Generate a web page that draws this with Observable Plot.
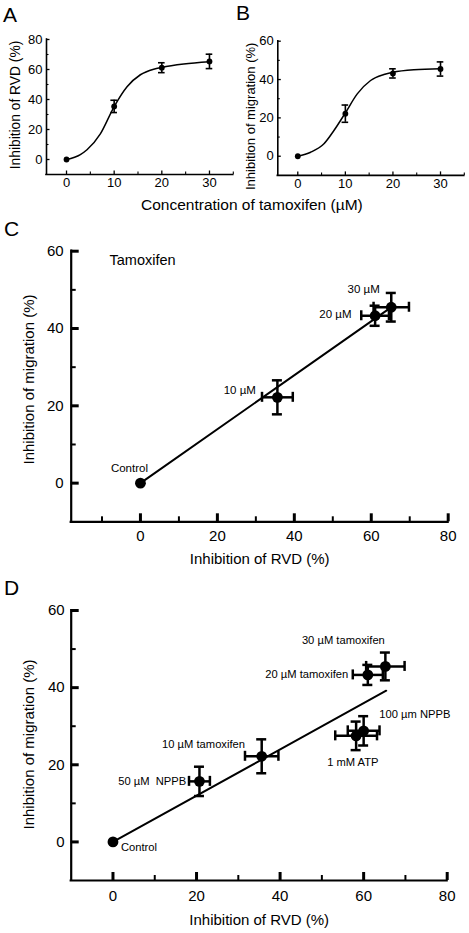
<!DOCTYPE html>
<html><head><meta charset="utf-8">
<script src="https://cdn.jsdelivr.net/npm/d3@7"></script>
<script src="https://cdn.jsdelivr.net/npm/@observablehq/plot@0.6"></script>
<style>
html,body{margin:0;padding:0;background:#fff;}
#fig{position:relative;width:469px;height:933px;overflow:hidden;font-family:"Liberation Sans",Arial,Helvetica,sans-serif;color:#000;}
#fig svg{position:absolute;}
.letter{position:absolute;font-size:21px;line-height:1;}
.xlab{position:absolute;font-size:15.5px;line-height:1;white-space:nowrap;}
</style></head><body>
<div id="fig">
<div class="letter" style="left:3px;top:4px">A</div>
<div class="letter" style="left:236px;top:2px">B</div>
<div class="letter" style="left:4px;top:218px">C</div>
<div class="letter" style="left:4px;top:577px">D</div>
<div class="xlab" style="left:141px;top:197px">Concentration of tamoxifen (µM)</div>
</div>
<script>
// ---------- data ----------
const conc = [0, 10, 20, 30];
const rvd = [0, 35.4, 61.2, 65.4];
const rvdErr = [0, 4.1, 3.3, 4.8];
const mig = [0, 22.2, 43.2, 45.5];
const migErr = [0, 4.5, 2.4, 3.7];
// fitted curves
const fitAx = [0, 2.9, 4.3, 7.1, 10, 12.7, 15.5, 18.3, 20, 24.6, 30];
const fitAy = [0, 3.3, 6.5, 17.1, 35.3, 48.5, 56.5, 60.2, 61.4, 63.6, 65.1];
const fitBx = [0, 2.7, 5.5, 7.6, 10, 12.5, 15.3, 18.1, 20, 24.4, 30];
const fitBy = [0, 2.1, 6.5, 13.4, 22.6, 32.5, 39.5, 42.6, 43.8, 45.1, 45.6];
// panel C
const cLabels = ["Control", "10 µM", "20 µM", "30 µM"];
const cRvd = [0, 35.6, 61.0, 65.2];
const cRvdErr = [0, 4.0, 3.6, 4.6];
const cMig = [0, 22.2, 43.3, 45.5];
const cMigErr = [0, 4.4, 2.6, 3.7];
const cFitX = [0, 64.5];
const cFitY = [0, 45];
// panel D
const dLabels = ["Control", "50 µM\u00a0\u00a0NPPB", "10 µM tamoxifen", "20 µM tamoxifen", "30 µM tamoxifen", "1 mM ATP", "100 µm NPPB"];
const dRvd = [0, 20.7, 35.6, 61.0, 65.2, 58.2, 60.0];
const dRvdErr = [0, 2.5, 4.0, 3.6, 4.6, 5.0, 3.8];
const dMig = [0, 15.7, 22.2, 43.3, 45.5, 27.5, 28.8];
const dMigErr = [0, 3.8, 4.4, 2.6, 3.6, 3.7, 3.8];
const dFitX = [0, 65.4];
const dFitY = [0, 39.2];
// axis titles
const titleRVD = "Inhibition of RVD (%)";
const titleMig = "Inhibition of migration (%)";

// ---------- helpers ----------
const FONT = '"Liberation Sans", Arial, Helvetica, sans-serif';
const fig = document.getElementById("fig");
function place(svg, left, top) {
  svg.style.left = left + "px"; svg.style.top = top + "px"; fig.appendChild(svg);
}
function rows(xs, ys, exs, eys) {
  return xs.map((x, i) => ({x, y: ys[i], ex: exs ? exs[i] : 0, ey: eys ? eys[i] : 0, i}));
}
function axesMarks(o) {
  const {xDomain, yDomain, fw, fh, xMaj, xMin, yMaj, yMin, majLen, minLen, majW, minW, axisW} = o;
  return [
    Plot.ruleY([yDomain[0]], {strokeWidth: axisW, strokeLinecap: "square"}),
    Plot.ruleX([xDomain[0]], {strokeWidth: axisW, strokeLinecap: "square"}),
    Plot.ruleX(xMaj, {x: d => d, insetTop: fh - majLen, strokeWidth: majW}),
    Plot.ruleX(xMin, {x: d => d, insetTop: fh - minLen, strokeWidth: minW}),
    Plot.ruleY(yMaj, {y: d => d, insetRight: fw - majLen, strokeWidth: majW}),
    Plot.ruleY(yMin, {y: d => d, insetRight: fw - minLen, strokeWidth: minW})
  ];
}
function errMarks(data, cap, sw) {
  const v = data.filter(d => d.ey > 0), h = data.filter(d => d.ex > 0);
  return [
    Plot.ruleX(v, {x: "x", y1: d => d.y - d.ey, y2: d => d.y + d.ey, strokeWidth: sw}),
    Plot.ruleY(v, {y: d => d.y - d.ey, x1: "x", x2: "x", insetLeft: -cap, insetRight: -cap, strokeWidth: sw}),
    Plot.ruleY(v, {y: d => d.y + d.ey, x1: "x", x2: "x", insetLeft: -cap, insetRight: -cap, strokeWidth: sw}),
    Plot.ruleY(h, {y: "y", x1: d => d.x - d.ex, x2: d => d.x + d.ex, strokeWidth: sw}),
    Plot.ruleX(h, {x: d => d.x - d.ex, y1: "y", y2: "y", insetTop: -cap, insetBottom: -cap, strokeWidth: sw}),
    Plot.ruleX(h, {x: d => d.x + d.ex, y1: "y", y2: "y", insetTop: -cap, insetBottom: -cap, strokeWidth: sw})
  ];
}
const baseStyle = (fs) => ({background: "none", overflow: "visible", fontFamily: FONT, fontSize: fs + "px", color: "black"});

// ---------- panel A ----------
{
  const W = 240, H = 215, ml = 46, mr = 7.2, mt = 39, mb = 41;
  const xD = [-4.2, 35], yD = [-10, 80];
  const pts = rows(conc, rvd, null, rvdErr);
  const fit = rows(fitAx, fitAy);
  const svg = Plot.plot({
    width: W, height: H, marginLeft: ml, marginRight: mr, marginTop: mt, marginBottom: mb,
    x: {domain: xD}, y: {domain: yD},
    style: baseStyle(13),
    marks: [
      ...axesMarks({xDomain: xD, yDomain: yD, fw: W - ml - mr, fh: H - mt - mb,
        xMaj: [0, 10, 20, 30], xMin: [5, 15, 25, 35], yMaj: [0, 20, 40, 60, 80], yMin: [10, 30, 50, 70],
        majLen: 3.5, minLen: 2.5, majW: 1.3, minW: 1.1, axisW: 1.6}),
      Plot.axisX({ticks: [0, 10, 20, 30], tickSize: 0, tickPadding: 3, label: null, tickFormat: d => String(d), fontSize: 13}),
      Plot.axisY({ticks: [0, 20, 40, 60, 80], tickSize: 0, tickPadding: 4, label: null, tickFormat: d => String(d), fontSize: 13}),
      Plot.text([titleRVD], {frameAnchor: "left", rotate: -90, dx: -30.5, dy: -2, textAnchor: "middle", lineAnchor: "middle", fontSize: 13.8}),
      Plot.line(fit, {x: "x", y: "y", curve: "monotone-x", strokeWidth: 1.5}),
      ...errMarks(pts, 3.3, 1.6),
      Plot.dot(pts, {x: "x", y: "y", r: 2.9, fill: "black"})
    ]
  });
  place(svg, 0, 0);
}
// ---------- panel B ----------
{
  const W = 239, H = 215, ml = 47.3, mr = 5.2, mt = 40.7, mb = 40.1;
  const xD = [-4.2, 35], yD = [-10, 60];
  const pts = rows(conc, mig, null, migErr);
  const fit = rows(fitBx, fitBy);
  const svg = Plot.plot({
    width: W, height: H, marginLeft: ml, marginRight: mr, marginTop: mt, marginBottom: mb,
    x: {domain: xD}, y: {domain: yD},
    style: baseStyle(13),
    marks: [
      ...axesMarks({xDomain: xD, yDomain: yD, fw: W - ml - mr, fh: H - mt - mb,
        xMaj: [0, 10, 20, 30], xMin: [5, 15, 25, 35], yMaj: [0, 20, 40, 60], yMin: [10, 30, 50],
        majLen: 3.5, minLen: 2.5, majW: 1.3, minW: 1.1, axisW: 1.6}),
      Plot.axisX({ticks: [0, 10, 20, 30], tickSize: 0, tickPadding: 3, label: null, tickFormat: d => String(d), fontSize: 13}),
      Plot.axisY({ticks: [0, 20, 40, 60], tickSize: 0, tickPadding: 4, label: null, tickFormat: d => String(d), fontSize: 13}),
      Plot.text([titleMig], {frameAnchor: "left", rotate: -90, dx: -27.3, dy: 8, textAnchor: "middle", lineAnchor: "middle", fontSize: 13}),
      Plot.line(fit, {x: "x", y: "y", curve: "monotone-x", strokeWidth: 1.5}),
      ...errMarks(pts, 3.3, 1.6),
      Plot.dot(pts, {x: "x", y: "y", r: 2.9, fill: "black"})
    ]
  });
  place(svg, 230, 0);
}
// ---------- panel C ----------
{
  const W = 469, H = 360, ml = 70.7, mr = 21.3, mt = 35.7, mb = 53.7;
  const xD = [-18, 80], yD = [-10, 60];
  const pts = rows(cRvd, cMig, cRvdErr, cMigErr);
  const fit = rows(cFitX, cFitY);
  const lab = (i, dx, dy, anchor) => Plot.text([pts[i]], {x: "x", y: "y", text: d => cLabels[d.i], dx, dy, textAnchor: anchor, lineAnchor: "middle", fontSize: 11.5});
  const svg = Plot.plot({
    width: W, height: H, marginLeft: ml, marginRight: mr, marginTop: mt, marginBottom: mb,
    x: {domain: xD}, y: {domain: yD},
    style: baseStyle(15),
    marks: [
      ...axesMarks({xDomain: xD, yDomain: yD, fw: W - ml - mr, fh: H - mt - mb,
        xMaj: [0, 20, 40, 60, 80], xMin: [-10, 10, 30, 50, 70], yMaj: [0, 20, 40, 60], yMin: [10, 30, 50],
        majLen: 8, minLen: 5, majW: 3, minW: 2, axisW: 2.2}),
      Plot.axisX({ticks: [0, 20, 40, 60, 80], tickSize: 0, tickPadding: 9, label: null, tickFormat: d => String(d), fontSize: 15}),
      Plot.axisY({ticks: [0, 20, 40, 60], tickSize: 0, tickPadding: 7.5, label: null, tickFormat: d => String(d), fontSize: 15}),
      Plot.text([titleMig], {frameAnchor: "left", rotate: -90, dx: -41.7, dy: -7, textAnchor: "middle", lineAnchor: "middle", fontSize: 15}),
      Plot.text([titleRVD], {frameAnchor: "bottom", dy: 37.5, textAnchor: "middle", lineAnchor: "middle", fontSize: 15}),
      Plot.text(["Tamoxifen"], {frameAnchor: "top-left", dx: 38.3, dy: 9.3, textAnchor: "start", lineAnchor: "middle", fontSize: 14.5}),
      Plot.line(fit, {x: "x", y: "y", strokeWidth: 2}),
      ...errMarks(pts, 5, 2.5),
      Plot.dot(pts, {x: "x", y: "y", r: 5.4, fill: "black"}),
      lab(0, -11, -14.6, "middle"),
      lab(1, -21.5, -7.3, "end"),
      lab(2, -23.6, -1.9, "end"),
      lab(3, -11.5, -18.4, "end")
    ]
  });
  place(svg, 0, 215);
}
// ---------- panel D ----------
{
  const W = 469, H = 358, ml = 70.7, mr = 22.3, mt = 35, mb = 53;
  const xD = [-10, 80], yD = [-10, 60];
  const pts = rows(dRvd, dMig, dRvdErr, dMigErr);
  const fit = rows(dFitX, dFitY);
  const lab = (i, dx, dy, anchor) => Plot.text([pts[i]], {x: "x", y: "y", text: d => dLabels[d.i], dx, dy, textAnchor: anchor, lineAnchor: "middle", fontSize: 11.2});
  const svg = Plot.plot({
    width: W, height: H, marginLeft: ml, marginRight: mr, marginTop: mt, marginBottom: mb,
    x: {domain: xD}, y: {domain: yD},
    style: baseStyle(15),
    marks: [
      ...axesMarks({xDomain: xD, yDomain: yD, fw: W - ml - mr, fh: H - mt - mb,
        xMaj: [0, 20, 40, 60, 80], xMin: [10, 30, 50, 70], yMaj: [0, 20, 40, 60], yMin: [10, 30, 50],
        majLen: 8, minLen: 5, majW: 3, minW: 2, axisW: 2.2}),
      Plot.axisX({ticks: [0, 20, 40, 60, 80], tickSize: 0, tickPadding: 10, label: null, tickFormat: d => String(d), fontSize: 15}),
      Plot.axisY({ticks: [0, 20, 40, 60], tickSize: 0, tickPadding: 6.5, label: null, tickFormat: d => String(d), fontSize: 15}),
      Plot.text([titleMig], {frameAnchor: "left", rotate: -90, dx: -41.7, dy: -1, textAnchor: "middle", lineAnchor: "middle", fontSize: 15}),
      Plot.text([titleRVD], {frameAnchor: "bottom", dy: 40, textAnchor: "middle", lineAnchor: "middle", fontSize: 15}),
      Plot.line(fit, {x: "x", y: "y", strokeWidth: 2}),
      ...errMarks(pts, 5, 2.5),
      Plot.dot(pts, {x: "x", y: "y", r: 5.4, fill: "black"}),
      lab(0, 8, 5, "start"),
      lab(1, -13.3, 0, "end"),
      lab(2, -16.7, -11.5, "end"),
      lab(3, -19.6, -1, "end"),
      lab(4, -42, -25.7, "middle"),
      lab(5, -3.3, 26.7, "middle"),
      lab(6, 15.7, -16, "start")
    ]
  });
  place(svg, 0, 575);
}
</script>
</body></html>
